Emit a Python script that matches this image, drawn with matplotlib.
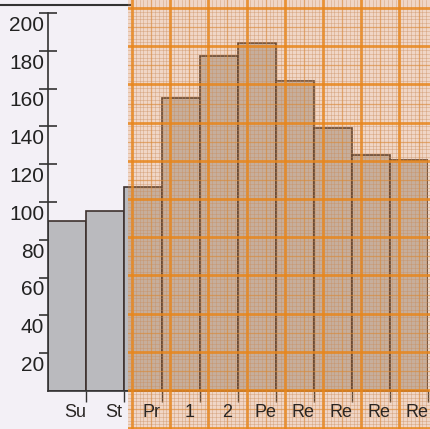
import numpy as np
import matplotlib
matplotlib.use("Agg")
import matplotlib.pyplot as plt
from matplotlib.lines import Line2D

# bar chart photographed half under a sheet of orange graph paper
categories = ["Su", "St", "Pr", "1", "2", "Pe", "Re", "Re", "Re", "Re"]
values = [90, 95, 108, 155, 177, 184, 164, 139, 125, 122]
yticks = [20, 40, 60, 80, 100, 120, 140, 160, 180, 200]

W, H = 431, 429
BG = "#f3f0f6"
BAR = "#bababe"
EDGE = "#3e322e"

plt.rcParams["font.family"] = ["Liberation Sans", "DejaVu Sans"]

fig = plt.figure(figsize=(W / 100, H / 100), dpi=100, facecolor=BG)
ax = fig.add_axes([48 / W, 38 / H, 380 / W, 378 / H], facecolor=BG)

x = np.arange(len(categories))
ax.bar(x, values, width=1.0, color=BAR, edgecolor=EDGE, linewidth=1.2, zorder=2)
ax.set_xlim(-0.5, len(categories) - 0.5)
ax.set_ylim(0, 200)

for s in ("top", "right"):
    ax.spines[s].set_visible(False)
for s in ("left", "bottom"):
    ax.spines[s].set_color("#333333")
    ax.spines[s].set_linewidth(1.2)

ax.set_yticks(yticks)
ax.set_yticklabels([])
ax.tick_params(axis="y", direction="inout", length=13, width=1.2, color="#333333")
for v in yticks:
    ax.text(-0.6, v - 6.5, str(v), ha="right", va="center", fontsize=15, color="#222222")

# boundary ticks hanging below the baseline
ax.set_xticks(x + 0.5)
ax.set_xticklabels([])
ax.tick_params(axis="x", direction="out", length=8, width=1.0, color="#333333")

# dark rule at the top of the page
fig.add_artist(Line2D([0, 130 / W], [1 - 5 / H] * 2, color="#333333", lw=1.5))

# graph paper overlay (translucent orange sheet)
px0 = 128
paper = fig.add_axes([px0 / W, 0, 1 - px0 / W, 1], zorder=5)
paper.patch.set_facecolor((0.92, 0.55, 0.22, 0.25))
paper.set_xlim(0, W - px0)
paper.set_ylim(H, 0)
paper.set_xticks([])
paper.set_yticks([])
for s in paper.spines.values():
    s.set_visible(False)

major = 38.2
step = major / 10


def rule(kind, pos, k):
    fn = paper.axvline if kind == "v" else paper.axhline
    if k % 10 == 0:
        fn(pos, color="#e8861c", lw=2.0, alpha=0.85)
    elif k % 5 == 0:
        fn(pos, color="#d98a3a", lw=0.9, alpha=0.65)
    else:
        fn(pos, color="#c98d5c", lw=0.5, alpha=0.5)


xs0 = 132 - px0
for k in range(0, 90):
    xv = xs0 + k * step
    if xv > W - px0:
        break
    rule("v", xv, k)
ys0 = 8
for k in range(0, 120):
    yv = ys0 + k * step
    if yv > H:
        break
    rule("h", yv, k)

# category labels are printed on top of the paper
for i, lab in enumerate(categories):
    fig.text(i + 0.22, -7, lab, transform=ax.transData, ha="center", va="top",
             fontsize=13, color="#2a2624", zorder=10)

fig.savefig("out.png", dpi=100, facecolor=BG)
